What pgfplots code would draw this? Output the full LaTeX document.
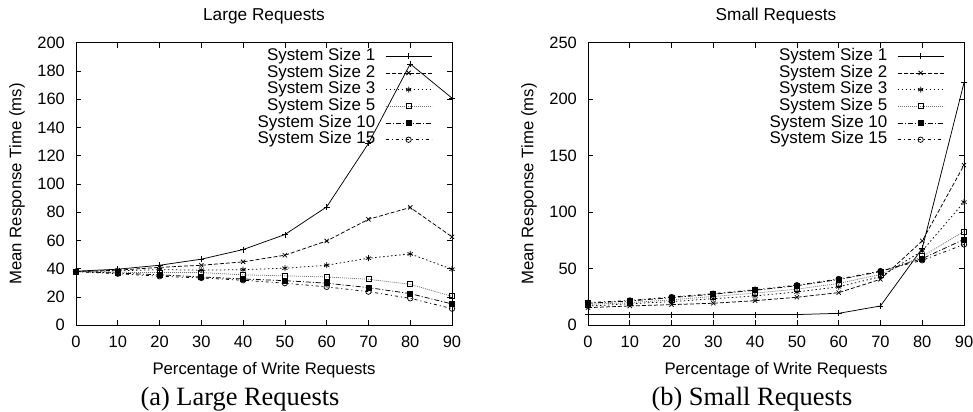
\documentclass[border=0pt]{standalone}
\usepackage{pgfplots}
\pgfplotsset{compat=1.18}
\usepackage{fontspec}
\setmainfont{Liberation Sans}
\newfontfamily\capfont{Liberation Serif}

\pgfplotsset{
  mystyle/.style={
    scale only axis, width=376bp, height=282.6bp,
    xmin=0, xmax=90,
    xtick={0,10,...,90},
    axis line style={line width=0.8bp},
    major tick length=5bp,
    tick style={line width=0.6bp, black},
    /pgf/number format/assume math mode=true,
    ticklabel style={font=\fontsize{16.5}{16.5}\selectfont, inner sep=0pt},
    xticklabel style={yshift=-11bp},
    yticklabel style={xshift=-11bp},
    label style={font=\fontsize{16.8}{16.8}\selectfont},
    xlabel={Percentage of Write Requests},
    ylabel={Mean Response Time (ms)},
    xlabel style={at={([yshift=-49bp]axis description cs:0.5,0)}, anchor=base},
    ylabel style={at={([xshift=-59bp]axis description cs:0,0.5)}, anchor=center},
    title style={font=\fontsize{17.3}{17.3}\selectfont, at={([yshift=16bp]axis description cs:0.5,1)}, anchor=base},
    legend style={at={(1,1)}, anchor=north east, xshift=-20bp, yshift=-5.5bp,
      draw=none, fill=none, inner sep=0pt, outer sep=0pt,
      font=\fontsize{17}{17}\selectfont,
      nodes={inner sep=0pt, text height=12.3bp, text depth=3.7bp},
      row sep=0.7bp, column sep=10bp},
    legend cell align=right,
    legend plot pos=right,
    legend image code/.code={\draw[mark repeat=2,mark phase=2,##1] plot coordinates {(0bp,0bp) (23bp,0bp) (46bp,0bp)};},
    every axis plot/.append style={line width=0.75bp, black},
  },
  s1/.style={solid, mark=+, mark size=3bp, mark options={solid}},
  s2/.style={dash pattern=on 4bp off 2bp, mark=x, mark size=3bp, mark options={solid}},
  s3/.style={dash pattern=on 1.5bp off 2.5bp, mark=asterisk, mark size=3bp, mark options={solid}},
  s5/.style={draw=black!55, dash pattern=on 1bp off 1bp, mark=square, mark size=2.5bp, mark options={solid, draw=black}},
  s10/.style={dash pattern=on 5bp off 2bp on 1bp off 2bp, mark=square*, mark size=2.5bp, mark options={solid, fill=black}},
  s15/.style={dash pattern=on 3bp off 3bp on 1bp off 3bp, mark=o, mark size=2.7bp, mark options={solid}},
}

\begin{document}
\begin{tikzpicture}
\useasboundingbox (0,0) rectangle (973bp,412bp);

\begin{axis}[mystyle, at={(76bp,86.7bp)}, anchor=south west,
  title={Large Requests},
  ymin=0, ymax=200, ytick={0,20,...,200}]
\addplot[s1] coordinates {(0,38.3)(10,39.7)(20,42.5)(30,46.8)(40,53.6)(50,64.2)(60,83.8)(70,128.7)(80,185)(90,160.8)};
\addlegendentry{System Size 1}
\addplot[s2] coordinates {(0,38)(10,39)(20,41)(30,42.5)(40,44.9)(50,49.6)(60,59.7)(70,75)(80,83.4)(90,62.6)};
\addlegendentry{System Size 2}
\addplot[s3] coordinates {(0,38)(10,38.5)(20,39.4)(30,39)(40,39.4)(50,40.4)(60,42.5)(70,47.5)(80,50.5)(90,39.7)};
\addlegendentry{System Size 3}
\addplot[s5] coordinates {(0,38)(10,37.5)(20,37.3)(30,37.3)(40,35.7)(50,35)(60,34.2)(70,32.6)(80,29)(90,20.5)};
\addlegendentry{System Size 5}
\addplot[s10] coordinates {(0,38)(10,37)(20,35.7)(30,34.2)(40,32.8)(50,31.6)(60,29.8)(70,26.7)(80,22.4)(90,15.1)};
\addlegendentry{System Size 10}
\addplot[s15] coordinates {(0,38)(10,36.5)(20,34.7)(30,33.5)(40,31.9)(50,29.8)(60,27.2)(70,23.8)(80,19.1)(90,11.8)};
\addlegendentry{System Size 15}
\end{axis}

\begin{axis}[mystyle, at={(588bp,86.7bp)}, anchor=south west,
  title={Small Requests},
  ymin=0, ymax=250, ytick={0,50,...,250}]
\addplot[s1] coordinates {(0,9.5)(10,9.5)(20,9.5)(30,9.5)(40,9.5)(50,9.5)(60,10.6)(70,17.1)(80,68)(90,214.6)};
\addlegendentry{System Size 1}
\addplot[s2] coordinates {(0,15.6)(10,17.1)(20,18.3)(30,19.5)(40,21.8)(50,24.8)(60,28.9)(70,40.7)(80,74.7)(90,141.7)};
\addlegendentry{System Size 2}
\addplot[s3] coordinates {(0,17)(10,19)(20,21)(30,23.5)(40,26)(50,29.5)(60,34)(70,43)(80,65.8)(90,109)};
\addlegendentry{System Size 3}
\addplot[s5] coordinates {(0,18.5)(10,20)(20,22.5)(30,25.5)(40,28.5)(50,32)(60,37)(70,45)(80,61)(90,83)};
\addlegendentry{System Size 5}
\addplot[s10] coordinates {(0,19.5)(10,21.5)(20,24.5)(30,27.5)(40,31)(50,35)(60,40.5)(70,47.5)(80,59)(90,76)};
\addlegendentry{System Size 10}
\addplot[s15] coordinates {(0,20)(10,22)(20,25)(30,28)(40,31.5)(50,35.5)(60,41)(70,48)(80,57.5)(90,71.5)};
\addlegendentry{System Size 15}
\end{axis}

\node[font=\capfont\fontsize{26.5}{26.5}\selectfont, anchor=base] at (240bp,7bp) {(a) Large Requests};
\node[font=\capfont\fontsize{26.5}{26.5}\selectfont, anchor=base] at (752bp,7bp) {(b) Small Requests};
\end{tikzpicture}
\end{document}
